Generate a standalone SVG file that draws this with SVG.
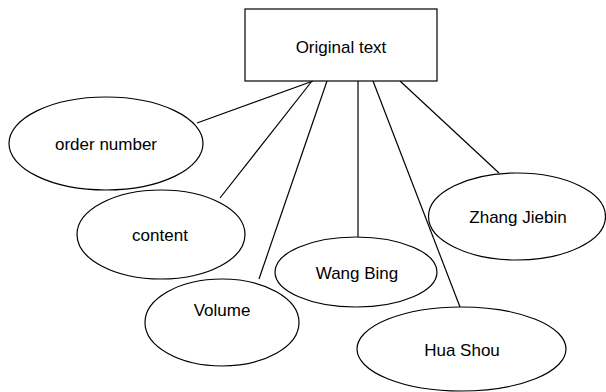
<svg xmlns="http://www.w3.org/2000/svg" width="606" height="392" viewBox="0 0 606 392">
<style>
.s{fill:#fff;stroke:#000;stroke-width:1.2}
.t{font-family:"Liberation Sans",Arial,sans-serif;font-size:17px;fill:#000;text-anchor:middle}
.c line{stroke:#000;stroke-width:1.2}
</style>
<rect width="606" height="392" fill="#fff"/>
<g class="c" id="connectors">
<line x1="313" y1="81" x2="197" y2="123"/>
<line x1="312" y1="81" x2="220" y2="198"/>
<line x1="327" y1="81" x2="259" y2="279"/>
<line x1="358" y1="81" x2="358" y2="237"/>
<line x1="373" y1="81" x2="460" y2="307"/>
<line x1="400" y1="81" x2="499" y2="173"/>
</g>
<g id="original"><rect class="s" x="245" y="9" width="192" height="72"/><text class="t" x="341" y="53">Original text</text></g>
<g id="order"><ellipse class="s" cx="106" cy="143.5" rx="97" ry="46.5"/><text class="t" x="106" y="150">order number</text></g>
<g id="content"><ellipse class="s" cx="161" cy="234.5" rx="84" ry="44.5"/><text class="t" x="160" y="241">content</text></g>
<g id="volume"><ellipse class="s" cx="222" cy="322.5" rx="77" ry="43.5"/><text class="t" x="222" y="316">Volume</text></g>
<g id="wangbing"><ellipse class="s" cx="356" cy="272" rx="81" ry="35"/><text class="t" x="357" y="279">Wang Bing</text></g>
<g id="huashou"><ellipse class="s" cx="461.5" cy="349" rx="104.5" ry="42"/><text class="t" x="462" y="356">Hua Shou</text></g>
<g id="zhangjiebin"><ellipse class="s" cx="517" cy="216.5" rx="88.5" ry="43.5"/><text class="t" x="518" y="223">Zhang Jiebin</text></g>
</svg>
